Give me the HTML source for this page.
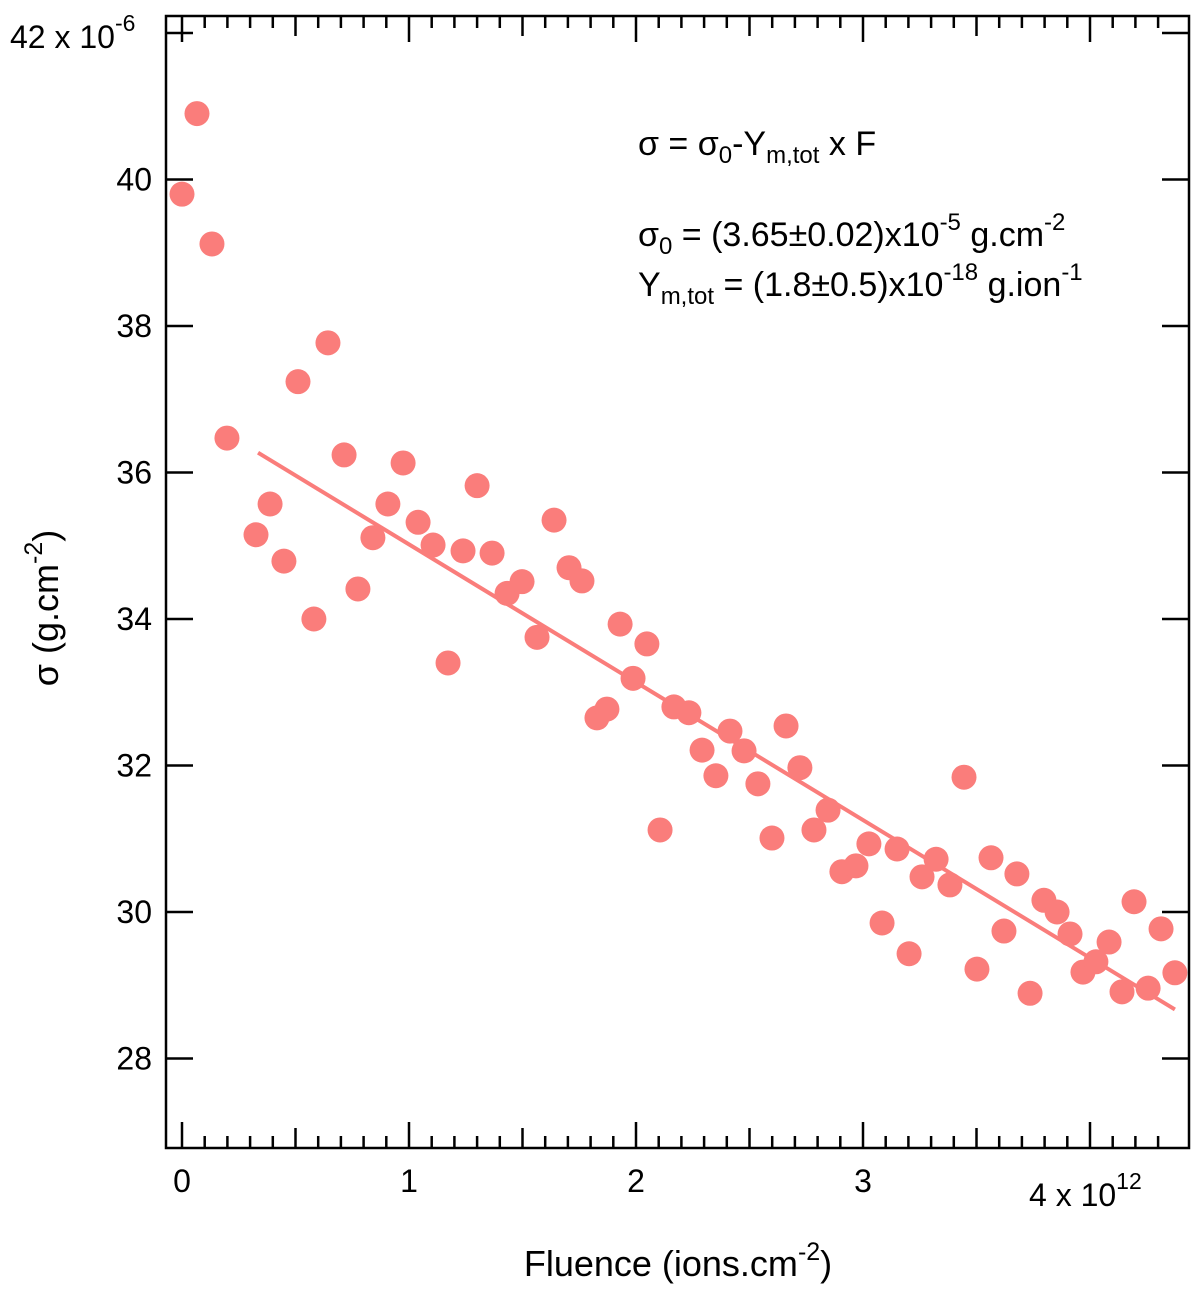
<!DOCTYPE html>
<html><head><meta charset="utf-8"><style>
body{margin:0;background:#fff;}
svg text{font-family:"Liberation Sans","DejaVu Sans",sans-serif;fill:#000;}
</style></head><body>
<svg id="chart" width="1200" height="1286" viewBox="0 0 1200 1286" xmlns="http://www.w3.org/2000/svg">
<g id="axes"></g>
<g id="fitline"></g>
<g id="points"></g>
<text x="638" y="155" font-size="34">σ = σ<tspan font-size="24" dy="8">0</tspan><tspan dy="-8">-Y</tspan><tspan font-size="24" dy="8">m,tot</tspan><tspan dy="-8"> x F</tspan></text>
<text x="638" y="246" font-size="34">σ<tspan font-size="24" dy="8">0</tspan><tspan dy="-8"> = (3.65±0.02)x10</tspan><tspan font-size="24" dy="-16">-5</tspan><tspan dy="16"> g.cm</tspan><tspan font-size="24" dy="-16">-2</tspan></text>
<text x="638" y="296" font-size="34">Y<tspan font-size="24" dy="8">m,tot</tspan><tspan dy="-8"> = (1.8±0.5)x10</tspan><tspan font-size="24" dy="-16">-18</tspan><tspan dy="16"> g.ion</tspan><tspan font-size="24" dy="-16">-1</tspan></text>
<text x="678" y="1276" font-size="36" text-anchor="middle">Fluence (ions.cm<tspan font-size="25" dy="-16">-2</tspan><tspan dy="16">)</tspan></text>
<text transform="translate(58,608) rotate(-90)" font-size="36" text-anchor="middle">σ (g.cm<tspan font-size="25" dy="-16">-2</tspan><tspan dy="16">)</tspan></text>
</svg>
<script>
const xValues=[0,.066,.132,.198,.326,.388,.449,.511,.581,.643,.714,.775,.841,.907,.974,1.040,1.106,1.172,1.238,1.300,1.366,1.432,1.498,1.564,1.639,1.705,1.762,1.828,1.872,1.930,1.987,2.048,2.106,2.167,2.233,2.291,2.352,2.414,2.476,2.537,2.599,2.661,2.722,2.784,2.846,2.907,2.969,3.026,3.084,3.150,3.203,3.260,3.322,3.383,3.445,3.502,3.564,3.621,3.678,3.736,3.797,3.855,3.912,3.969,4.026,4.084,4.141,4.194,4.256,4.313,4.374];
const yValues=[39.80,40.90,39.12,36.47,35.15,35.57,34.79,37.24,34.00,37.77,36.24,34.41,35.11,35.57,36.13,35.32,35.01,33.40,34.93,35.82,34.90,34.35,34.51,33.75,35.35,34.70,34.52,32.65,32.77,33.93,33.19,33.66,31.12,32.80,32.72,32.21,31.86,32.47,32.20,31.75,31.01,32.54,31.97,31.12,31.39,30.55,30.63,30.93,29.85,30.86,29.43,30.48,30.72,30.37,31.84,29.22,30.74,29.74,30.52,28.89,30.16,30.00,29.70,29.18,29.32,29.59,28.91,30.14,28.96,29.77,29.17];
const fitX=[0.335,4.374];
const fitY=[36.27,28.67];
const yTicks=[28,30,32,34,36,38,40,42];
const yLabels=["28","30","32","34","36","38","40",""];
const xTicks=[0,1,2,3,4];
const xLabels=["0","1","2","3",""];
const NS="http://www.w3.org/2000/svg";
const L=166,R=1189,T=16,B=1148;
function sx(v){return 182+v*227;}
function sy(v){return 33+(42-v)*73.25;}
function mk(tag,attrs,parent){const e=document.createElementNS(NS,tag);for(const k in attrs)e.setAttribute(k,attrs[k]);parent.appendChild(e);return e;}
const ax=document.getElementById('axes');
const fr=mk('rect',{x:L,y:T,width:R-L,height:B-T,fill:'none',stroke:'#000','stroke-width':2.5},ax);


yTicks.forEach((v,i)=>{
  const y=sy(v);
  const t1=mk('line',{x1:L,x2:L+27,y1:y,y2:y,stroke:'#000','stroke-width':2.5},ax);
  
  
  const t2=mk('line',{x1:R-27,x2:R,y1:y,y2:y,stroke:'#000','stroke-width':2.5},ax);
  
  
  if(yLabels[i]){
    const t=mk('text',{x:152,y:y+11,'font-size':32,'text-anchor':'end'},ax);
    t.textContent=yLabels[i];
    
    
  }
});
const topLabel=mk('text',{x:10,y:48,'font-size':32},ax);
topLabel.innerHTML='42 x 10<tspan font-size="23" dy="-17">-6</tspan>';


for(let k=0;k<=43;k++){
  const v=k/10;
  const x=sx(v);
  const len=(k%10===0)?26:(k%5===0)?20:12;
  const a=mk('line',{x1:x,x2:x,y1:B-len,y2:B,stroke:'#000','stroke-width':2.5},ax);
  
  
  const b=mk('line',{x1:x,x2:x,y1:T,y2:T+len,stroke:'#000','stroke-width':2.5},ax);
  
  
}
xTicks.forEach((v,i)=>{
  if(xLabels[i]){
    const t=mk('text',{x:sx(v),y:1192,'font-size':32,'text-anchor':'middle'},ax);
    t.textContent=xLabels[i];
    
    
  }
});
const x4=mk('text',{x:1029,y:1206,'font-size':32},ax);
x4.innerHTML='4 x 10<tspan font-size="23" dy="-17">12</tspan>';


const fl=mk('line',{x1:sx(fitX[0]),y1:sy(fitY[0]),x2:sx(fitX[1]),y2:sy(fitY[1]),stroke:'#fa7d7b','stroke-width':4},document.getElementById('fitline'));


const pg=document.getElementById('points');
xValues.forEach((v,i)=>{
  const c=mk('circle',{cx:sx(v),cy:sy(yValues[i]),r:12.5,fill:'#fa7d7b'},pg);
  
  
});
</script>
</body></html>
